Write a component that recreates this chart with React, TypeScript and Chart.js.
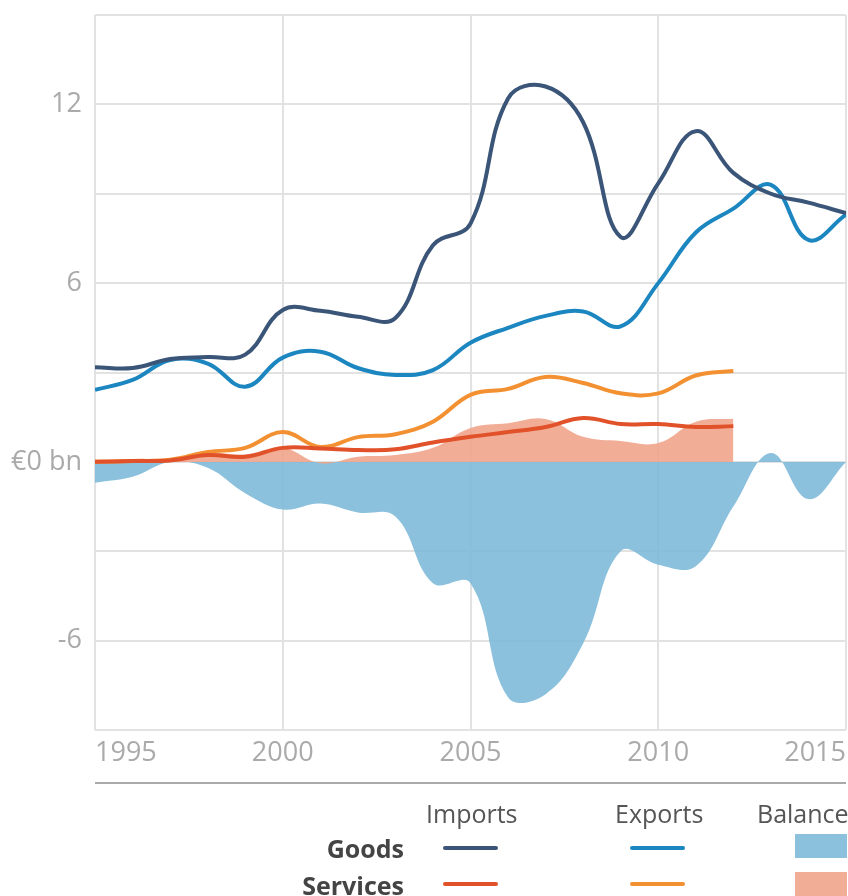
import React, { useEffect, useRef } from 'react';
import { Chart, registerables } from 'chart.js';

Chart.register(...registerables);

const years = [1995, 1996, 1997, 1998, 1999, 2000, 2001, 2002, 2003, 2004, 2005, 2006, 2007, 2008, 2009, 2010, 2011, 2012, 2013, 2014, 2015];

const goodsImports = [3.18, 3.15, 3.45, 3.52, 3.6, 5.1, 5.07, 4.87, 4.83, 7.27, 8.0, 12.2, 12.6, 11.4, 7.55, 9.35, 11.1, 9.7, 9.0, 8.7, 8.35];
const goodsExports = [2.42, 2.75, 3.42, 3.3, 2.52, 3.5, 3.7, 3.15, 2.92, 3.08, 4.0, 4.5, 4.9, 5.05, 4.55, 6.0, 7.7, 8.5, 9.3, 7.45, 8.3];
const goodsBalance = [-0.7, -0.5, 0, -0.2, -1.05, -1.6, -1.4, -1.7, -1.83, -4.07, -4.07, -7.9, -7.8, -6.1, -3.0, -3.45, -3.5, -1.5, 0.3, -1.25, 0];

const servicesImports = [0, 0.03, 0.05, 0.23, 0.17, 0.47, 0.45, 0.4, 0.42, 0.65, 0.84, 1.0, 1.17, 1.47, 1.27, 1.27, 1.17, 1.2];
const servicesExports = [0, 0.03, 0.07, 0.33, 0.47, 1.0, 0.5, 0.83, 0.93, 1.35, 2.25, 2.45, 2.85, 2.65, 2.3, 2.3, 2.9, 3.05];
const servicesBalance = [0, 0, 0.05, 0.3, 0.25, 0.47, -0.05, 0.17, 0.23, 0.47, 1.14, 1.3, 1.44, 0.84, 0.7, 0.63, 1.35, 1.45];

const yTickLabels: Record<string, string> = { '12': '12', '6': '6', '0': '€0 bn', '-6': '-6' };

const legendColumns = ['Imports', 'Exports', 'Balance'];
const legendRows = ['Goods', 'Services'];

const COLORS = {
  goodsImports: '#3a5577',
  goodsExports: '#1c86c0',
  goodsBalance: 'rgba(126,186,217,0.9)',
  servicesImports: '#e2522a',
  servicesExports: '#f39132',
  servicesBalance: 'rgba(240,164,138,0.9)',
};

const pts = (vals: number[]) => vals.map((v, i) => ({ x: years[i], y: v }));

export default function App() {
  const ref = useRef<HTMLCanvasElement>(null);

  useEffect(() => {
    const tickFont = { family: "'Open Sans', sans-serif", size: 27 };
    const line = (label: string, data: number[], color: string, order: number) => ({
      label,
      data: pts(data),
      borderColor: color,
      backgroundColor: color,
      borderWidth: 4,
      pointRadius: 0,
      tension: 0.4,
      fill: false,
      order,
    });
    const area = (label: string, data: number[], color: string, order: number) => ({
      label,
      data: pts(data),
      borderColor: 'rgba(0,0,0,0)',
      backgroundColor: color,
      borderWidth: 0,
      pointRadius: 0,
      tension: 0.4,
      fill: 'origin',
      order,
    });
    const chart = new Chart(ref.current as HTMLCanvasElement, {
      type: 'line',
      data: {
        datasets: [
          line('Goods imports', goodsImports, COLORS.goodsImports, 1),
          line('Goods exports', goodsExports, COLORS.goodsExports, 2),
          line('Services imports', servicesImports, COLORS.servicesImports, 3),
          line('Services exports', servicesExports, COLORS.servicesExports, 4),
          area('Services balance', servicesBalance, COLORS.servicesBalance, 10),
          area('Goods balance', goodsBalance, COLORS.goodsBalance, 11),
        ] as any,
      },
      options: {
        responsive: false,
        animation: false,
        layout: { padding: { left: 0, right: 2, top: 15, bottom: 116 } },
        plugins: { legend: { display: false }, tooltip: { enabled: false } },
        scales: {
          x: {
            type: 'linear',
            min: 1995,
            max: 2015,
            ticks: {
              stepSize: 5,
              align: 'inner',
              padding: 7,
              color: '#aaaaaa',
              font: tickFont,
              maxRotation: 0,
              callback: (v: any) => String(v),
            },
            grid: { color: '#e2e2e2', lineWidth: 2, drawTicks: false },
            border: { display: false },
            afterFit: (s: any) => { s.height = 50; s.paddingLeft = 0; s.paddingRight = 0; },
          },
          y: {
            min: -9,
            max: 15,
            ticks: {
              stepSize: 3,
              padding: 13,
              color: '#aaaaaa',
              font: tickFont,
              callback: (v: any) => yTickLabels[String(v)] ?? '',
            },
            grid: { color: '#e2e2e2', lineWidth: 2, drawTicks: false },
            border: { display: false },
            afterFit: (s: any) => { s.width = 95; s.paddingTop = 0; s.paddingBottom = 0; },
          },
        },
      } as any,
    });
    return () => chart.destroy();
  }, []);

  const headStyle: React.CSSProperties = {
    position: 'absolute', top: 798, fontFamily: "'Open Sans', sans-serif", fontSize: 25,
    lineHeight: '30px', color: '#555', whiteSpace: 'nowrap',
  };
  const rowStyle: React.CSSProperties = {
    position: 'absolute', right: 848 - 404, fontFamily: "'Open Sans', sans-serif", fontSize: 25,
    fontWeight: 700, lineHeight: '30px', color: '#444', whiteSpace: 'nowrap', textAlign: 'right',
  };
  const seg = (left: number, top: number, color: string): React.CSSProperties => ({
    position: 'absolute', left, top, width: 55, height: 4, background: color, borderRadius: 2,
  });
  const box = (top: number, color: string): React.CSSProperties => ({
    position: 'absolute', left: 795, top, width: 52, height: 24, background: color,
  });

  return (
    <div style={{ position: 'fixed', left: 0, top: 0, width: 848, height: 896, background: '#fff', overflow: 'hidden' }}>
      <canvas ref={ref} width={848} height={896} style={{ display: 'block', position: 'absolute', left: 0, top: 0 }} />
      <div style={{ position: 'absolute', left: 95, top: 782, width: 751, height: 2, background: '#aaaaaa' }} />
      <div style={{ ...headStyle, left: 426 }}>{legendColumns[0]}</div>
      <div style={{ ...headStyle, left: 615 }}>{legendColumns[1]}</div>
      <div style={{ ...headStyle, left: 757 }}>{legendColumns[2]}</div>
      <div style={{ ...rowStyle, top: 833 }}>{legendRows[0]}</div>
      <div style={{ ...rowStyle, top: 870 }}>{legendRows[1]}</div>
      <div style={seg(443, 846, COLORS.goodsImports)} />
      <div style={seg(630, 846, COLORS.goodsExports)} />
      <div style={box(834, COLORS.goodsBalance)} />
      <div style={seg(443, 882, COLORS.servicesImports)} />
      <div style={seg(630, 882, COLORS.servicesExports)} />
      <div style={box(872, COLORS.servicesBalance)} />
    </div>
  );
}
